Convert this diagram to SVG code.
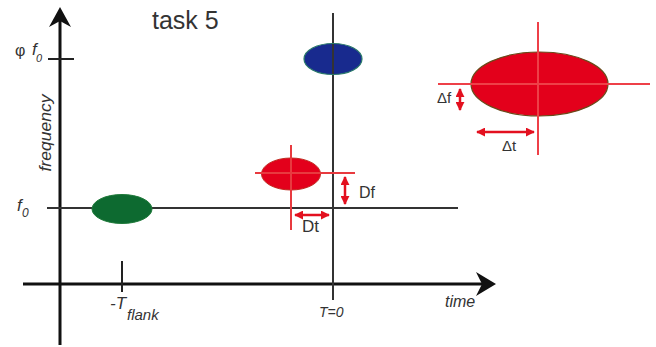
<svg xmlns="http://www.w3.org/2000/svg" width="656" height="347" viewBox="0 0 656 347">
<style>
.ax{stroke:#111;stroke-width:3;fill:none}
.tk{stroke:#222;stroke-width:2;fill:none}
.ln{stroke:#333;stroke-width:2;fill:none}
.rl{stroke:#e83a3f;stroke-width:2;fill:none}
.ra{stroke:#e3101f;stroke-width:2.5;fill:none;marker-start:url(#rh);marker-end:url(#rh)}
.t{font-family:"Liberation Sans",Arial,sans-serif;fill:#333}
.i{font-style:italic}
</style>
<defs>
<marker id="rh" viewBox="0 0 10 10" refX="9" refY="5" markerWidth="3.6" markerHeight="3.6" orient="auto-start-reverse" markerUnits="strokeWidth">
<path d="M0,0 L10,5 L0,10 z" fill="#e3101f"/>
</marker>
</defs>
<rect width="656" height="347" fill="#fff"/>
<g id="axes">
<line class="ax" x1="60" y1="20" x2="60" y2="345"/>
<polygon points="60,7 49,27 60,21 71,27" fill="#111"/>
<line class="ax" x1="23" y1="284" x2="485" y2="284"/>
<polygon points="496,284 476,272 482,284 476,296" fill="#111"/>
<line class="tk" x1="48" y1="59" x2="74" y2="59"/>
<line class="tk" x1="122" y1="261" x2="122" y2="292"/>
<line class="ln" x1="47" y1="208" x2="458" y2="208"/>
<line class="ln" x1="333" y1="13" x2="333" y2="300"/>
</g>
<g id="labels">
<text class="t" x="152" y="29" font-size="25">task 5</text>
<text class="t" x="15" y="56" font-size="16">φ</text>
<text class="t i" x="32" y="55" font-size="17">f</text>
<text class="t i" x="36" y="62" font-size="11">0</text>
<text class="t i" x="17" y="211" font-size="17">f</text>
<text class="t i" x="22" y="217" font-size="12">0</text>
<text class="t i" transform="translate(51,133) rotate(-90)" text-anchor="middle" font-size="16" textLength="77" lengthAdjust="spacingAndGlyphs">frequency</text>
<text class="t i" x="110" y="309" font-size="17">-T</text>
<text class="t i" x="127" y="320" font-size="15">flank</text>
<text class="t i" x="319" y="317" font-size="14" fill="#555">T=0</text>
<text class="t i" x="445" y="307" font-size="16">time</text>
</g>
<g id="node-green">
<ellipse cx="122" cy="209" rx="30" ry="14.5" fill="#0d6a30" stroke="#1f7a3a" stroke-width="1"/>
</g>
<g id="node-blue">
<ellipse cx="333" cy="59" rx="29" ry="15.5" fill="#182a8e" stroke="#2a7a6a" stroke-width="1.2"/>
<line class="ln" x1="333" y1="44" x2="333" y2="74"/>
</g>
<g id="node-red-small">
<ellipse cx="291" cy="174" rx="29.5" ry="16" fill="#e3001b" stroke="#c02a20" stroke-width="1"/>
<line class="rl" x1="291" y1="145" x2="291" y2="230"/>
<line class="rl" x1="255" y1="173" x2="355" y2="173"/>
</g>
<g id="node-red-large">
<ellipse cx="539.5" cy="84" rx="68.5" ry="32" fill="#e3001b" stroke="#6a4a1a" stroke-width="1.2"/>
<line x1="538" y1="22" x2="538" y2="155" stroke="#ee4048" stroke-width="2"/>
<line x1="438" y1="84" x2="650" y2="84" stroke="#ee4048" stroke-width="2"/>
</g>
<g id="connectors">
<line class="ra" x1="345" y1="177" x2="345" y2="204"/>
<line class="ra" x1="295" y1="215" x2="329" y2="215"/>
<line class="ra" x1="460" y1="89" x2="460" y2="110"/>
<line class="ra" x1="477" y1="132" x2="534" y2="132"/>
</g>
<g id="measure-labels">
<text class="t" x="359" y="198" font-size="16" fill="#222">Df</text>
<text class="t" x="302" y="232" font-size="17" fill="#222">Dt</text>
<text class="t" x="437" y="103" font-size="15" fill="#444">Δf</text>
<text class="t" x="502" y="151" font-size="15" fill="#444">Δt</text>
</g>
</svg>
